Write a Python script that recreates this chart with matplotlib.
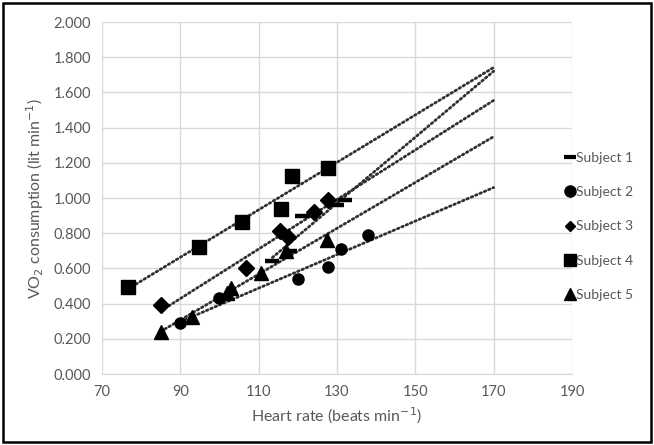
import numpy as np
import matplotlib
matplotlib.use("Agg")
import matplotlib.pyplot as plt
from matplotlib.patches import Rectangle

# ---- data ----
s1_hr = [113.5, 118.0, 121.0, 130.0, 132.0]
s1_vo = [0.64, 0.70, 0.90, 0.96, 0.99]

s2_hr = [90.0, 100.0, 120.0, 127.8, 131.0, 137.8]
s2_vo = [0.29, 0.43, 0.54, 0.61, 0.71, 0.79]

s3_hr = [85.0, 106.7, 115.4, 117.4, 124.2, 127.6]
s3_vo = [0.39, 0.60, 0.81, 0.78, 0.92, 0.99]

s4_hr = [76.6, 94.7, 105.7, 115.8, 118.6, 127.6]
s4_vo = [0.494, 0.72, 0.865, 0.94, 1.125, 1.17]

s5_hr = [85.0, 93.0, 101.8, 103.0, 110.5, 117.0, 127.4]
s5_vo = [0.24, 0.325, 0.46, 0.49, 0.575, 0.70, 0.76]

labels = ["Subject 1", "Subject 2", "Subject 3", "Subject 4", "Subject 5"]
trend_end = 170
x_ticks = [70, 90, 110, 130, 150, 170, 190]
y_ticks = [0.0, 0.2, 0.4, 0.6, 0.8, 1.0, 1.2, 1.4, 1.6, 1.8, 2.0]

series = [(s1_hr, s1_vo), (s2_hr, s2_vo), (s3_hr, s3_vo), (s4_hr, s4_vo), (s5_hr, s5_vo)]
styles = [
    dict(marker="_", markersize=10, markeredgewidth=3.2),
    dict(marker="o", markersize=8),
    dict(marker="D", markersize=8),
    dict(marker="s", markersize=9.5),
    dict(marker="^", markersize=9.5),
]
legend_styles = [
    dict(marker="_", markersize=8, markeredgewidth=3),
    dict(marker="o", markersize=8),
    dict(marker="D", markersize=5.5),
    dict(marker="s", markersize=8.5),
    dict(marker="^", markersize=8),
]

plt.rcParams['font.family'] = ['Lato', 'DejaVu Sans']
grey = "#595959"

fig = plt.figure(figsize=(6.54, 4.45), dpi=100)
ax = fig.add_axes([102/654, 1-374/445, (572-102)/654, (374-22)/445])

for (hr, vo), st in zip(series, styles):
    hr = np.array(hr); vo = np.array(vo)
    k, b = np.polyfit(hr, vo, 1)
    xs = np.array([hr.min(), trend_end])
    ax.plot(xs, k*xs + b, color="#303030", lw=2.0, linestyle=(0, (0.6, 1.1)),
            dash_capstyle="round", zorder=2)
    ax.plot(hr, vo, linestyle="none", color="black", zorder=3, **st)

ax.set_xlim(70, 190)
ax.set_ylim(0, 2.0)
ax.set_xticks(x_ticks)
ax.set_yticks(y_ticks)
ax.set_yticklabels([f"{v:.3f}" for v in y_ticks])
ax.grid(True, color="#d9d9d9", lw=1.0)
ax.set_axisbelow(True)
for s in ax.spines.values():
    s.set_visible(False)
ax.spines['bottom'].set_visible(True)
ax.spines['bottom'].set_color("#d9d9d9")
ax.tick_params(length=0, colors=grey, labelsize=10.5, pad=8)
ax.set_xlabel("Heart rate (beats min$^{-1}$)", color=grey, fontsize=11.5, labelpad=5)
ax.set_ylabel("VO$_2$ consumption (lit min$^{-1}$)", color=grey, fontsize=11.5, labelpad=5)

handles = [plt.Line2D([], [], linestyle="none", color="black", **st) for st in legend_styles]
leg = fig.legend(handles, labels, loc="upper left", bbox_to_anchor=(559/654, 1-145/445),
                 frameon=False, fontsize=10, handlelength=0.6, handletextpad=0.15,
                 labelspacing=1.6, borderpad=0)
for t in leg.get_texts():
    t.set_color(grey)

fig.patches.append(Rectangle((3/654, 3/445), 648/654, 439/445, transform=fig.transFigure,
                             fill=False, edgecolor="black", lw=1.8))
fig.savefig("out.png", dpi=100)
